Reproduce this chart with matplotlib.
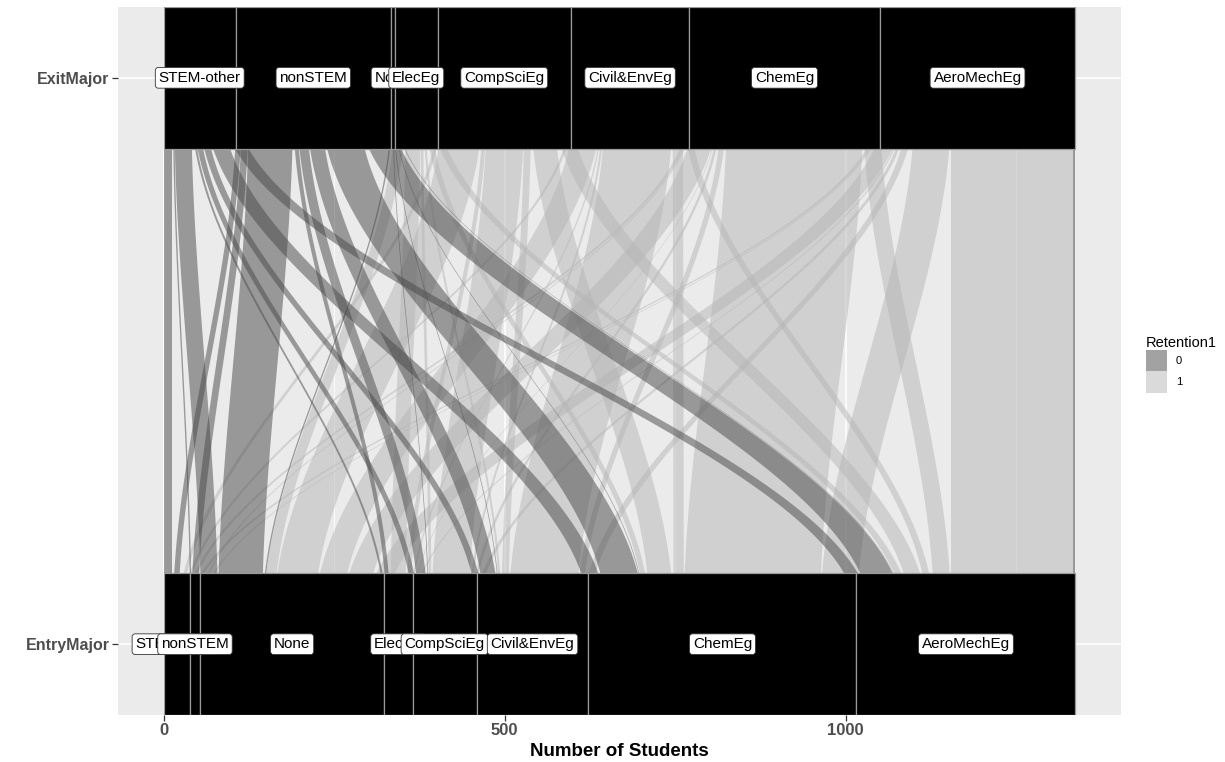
import numpy as np
import matplotlib.pyplot as plt
from matplotlib.patches import Patch

plt.rcParams['font.family'] = ['Liberation Sans', 'DejaVu Sans']

# ---- Data ------------------------------------------------------------
majors = ['STEM-other', 'nonSTEM', 'None', 'ElecEg', 'CompSciEg',
          'Civil&EnvEg', 'ChemEg', 'AeroMechEg']
axis_names = ['EntryMajor', 'ExitMajor']
x_ticks = [0, 500, 1000]

# rows = entry major, columns = exit major (same order as `majors`)
students_ret0 = [
    [13,  8, 0, 0, 0, 0, 0, 0],   # STEM-other
    [ 2, 10, 0, 0, 0, 0, 0, 0],   # nonSTEM
    [25, 65, 2, 0, 0, 0, 0, 0],   # None
    [ 3,  6, 0, 0, 0, 0, 0, 0],   # ElecEg
    [ 8, 14, 1, 0, 0, 0, 0, 0],   # CompSciEg
    [10, 22, 1, 0, 0, 0, 0, 0],   # Civil&EnvEg
    [25, 55, 1, 0, 0, 0, 0, 0],   # ChemEg
    [20, 47, 1, 0, 0, 0, 0, 4],   # AeroMechEg
]
students_ret1 = [
    [0, 0, 0,  0,  5,   4,   4,   4],
    [0, 0, 0,  0,  0,   0,   2,   2],
    [0, 0, 0, 15, 60,  40,  35,  27],
    [0, 0, 0, 22,  6,   2,   1,   2],
    [0, 0, 0,  4, 55,   3,   4,   5],
    [0, 0, 0,  3, 10, 100,   8,  10],
    [0, 0, 0,  8, 35,  15, 200,  54],
    [0, 0, 0, 11, 24,  10,  25, 179],
]

# ---- Style -----------------------------------------------------------
FILL = {0: '#474747', 1: '#b6b6b6'}
FLOW_ALPHA = 0.5
STRATUM_W = 0.25
FLOW_W = 0.10      # flows start under the strata, so they already diverge at the edge
ENTRY_POS, EXIT_POS = 1, 2


def build_flows():
    flows = []
    for i in range(len(majors)):
        for j in range(len(majors)):
            if students_ret1[i][j]:
                flows.append({'src': i, 'dst': j, 'ret': 1, 'n': students_ret1[i][j]})
            if students_ret0[i][j]:
                flows.append({'src': i, 'dst': j, 'ret': 0, 'n': students_ret0[i][j]})
    return flows


def stack_lodes(flows, side, other):
    """Stack flows inside each stratum, ordered by the stratum on the other axis."""
    totals = np.zeros(len(majors))
    for f in flows:
        totals[f[side]] += f['n']
    starts = np.concatenate([[0], np.cumsum(totals)[:-1]])
    cursor = starts.copy()
    for f in sorted(flows, key=lambda f: (f[side], f[other], -f['ret'])):
        k = f[side]
        f[side + '_lo'] = cursor[k]
        cursor[k] += f['n']
        f[side + '_hi'] = cursor[k]
    return starts, totals


def draw_flow(ax, f):
    y0 = ENTRY_POS + FLOW_W / 2
    y1 = EXIT_POS - FLOW_W / 2
    y = np.linspace(y0, y1, 160)
    t = (y - y0) / (y1 - y0)
    s = 3 * t ** 2 - 2 * t ** 3
    xl = f['src_lo'] + (f['dst_lo'] - f['src_lo']) * s
    xr = f['src_hi'] + (f['dst_hi'] - f['src_hi']) * s
    ax.fill_betweenx(y, xl, xr, color=FILL[f['ret']], alpha=FLOW_ALPHA,
                     lw=0, zorder=2)


def draw_axis(ax, pos, starts, totals):
    ax.barh([pos] * len(majors), totals, left=starts, height=STRATUM_W,
            color='black', edgecolor='#9a9a9a', linewidth=0.9, zorder=3)
    for name, s0, w in zip(majors, starts, totals):
        ax.text(s0 + w / 2, pos, name, ha='center', va='center', fontsize=11,
                color='black', zorder=4,
                bbox=dict(boxstyle='round,pad=0.22,rounding_size=0.2',
                          fc='white', ec='#333333', lw=0.6))


def main():
    flows = build_flows()
    entry_starts, entry_totals = stack_lodes(flows, 'src', 'dst')
    exit_starts, exit_totals = stack_lodes(flows, 'dst', 'src')
    total = entry_totals.sum()

    fig = plt.figure(figsize=(12.25, 7.62), dpi=100)
    ax = fig.add_axes([118 / 1225, 1 - 715 / 762, 1003 / 1225, 708 / 762])
    ax.set_facecolor('#EBEBEB')

    pad = 0.05 * total
    ax.set_xlim(-pad, total + pad)
    ax.set_ylim(ENTRY_POS - STRATUM_W / 2, EXIT_POS + STRATUM_W / 2)

    ax.set_xticks(x_ticks)
    ax.set_xticks([250, 750, 1250], minor=True)
    ax.set_yticks([ENTRY_POS, EXIT_POS])
    ax.set_yticklabels(axis_names)
    ax.grid(which='major', color='white', lw=1.1)
    ax.grid(which='minor', axis='x', color='white', lw=0.55)
    ax.set_axisbelow(True)
    ax.tick_params(which='major', length=4, width=0.9, color='#333333', pad=2)
    ax.tick_params(which='minor', length=0)
    for lab in ax.get_xticklabels():
        lab.set_fontsize(12)
    for lab in ax.get_yticklabels():
        lab.set_fontsize(11.5)
    for lab in ax.get_xticklabels() + ax.get_yticklabels():
        lab.set_fontweight('bold')
        lab.set_color('#4D4D4D')
    for sp in ax.spines.values():
        sp.set_visible(False)

    for f in flows:
        draw_flow(ax, f)
    draw_axis(ax, ENTRY_POS, entry_starts, entry_totals)
    draw_axis(ax, EXIT_POS, exit_starts, exit_totals)

    ax.set_xlabel('Number of Students', fontsize=13.5, fontweight='bold',
                  color='black', labelpad=3)

    handles = [Patch(facecolor=FILL[r], alpha=FLOW_ALPHA, edgecolor='none')
               for r in (0, 1)]
    leg = fig.legend(handles, ['0', '1'], title='Retention1',
                     loc='center left', bbox_to_anchor=(1136 / 1225, 0.522),
                     frameon=False, fontsize=8, title_fontsize=10.5,
                     handlelength=1.9, handleheight=2.6, labelspacing=0.0,
                     handletextpad=0.8)
    leg._legend_box.align = 'left'

    fig.savefig('out.png', dpi=100)


if __name__ == '__main__':
    main()
